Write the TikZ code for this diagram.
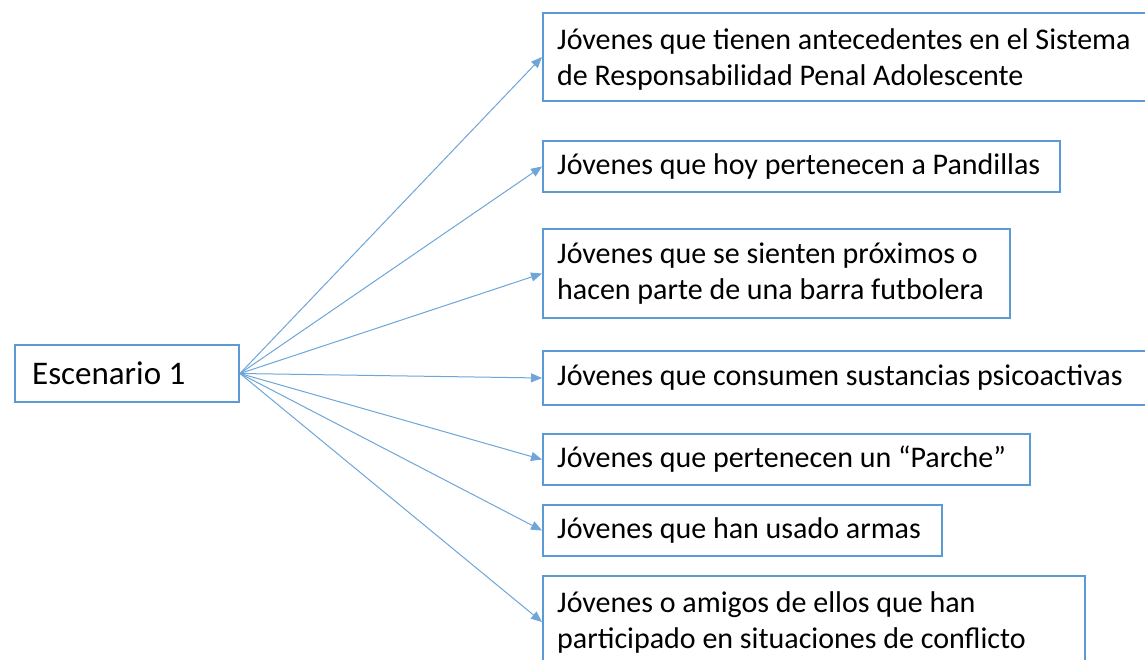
\documentclass[tikz,border=0pt]{standalone}
\usepackage{fontspec}
\setmainfont{Carlito}
\usetikzlibrary{arrows.meta}
\definecolor{boxblue}{HTML}{5B9BD5}
\definecolor{arrblue}{HTML}{6FA6DA}
\begin{document}
\begin{tikzpicture}[x=1pt,y=-1pt,
  box/.style={draw=boxblue, line width=2pt, anchor=north west, inner sep=0pt, fill=white},
  txt/.style={anchor=west, align=left, inner sep=0pt, font=\fontsize{30}{36}\selectfont},
  arr/.style={draw=arrblue, line width=1pt, -{Triangle[length=11pt,width=9pt]}}]
\useasboundingbox (0,0) rectangle (1145,659);
\clip (0,0) rectangle (1145,659);
\fill[white] (0,0) rectangle (1145,659);
% left box
\node[box, minimum width=224pt, minimum height=57pt] (esc) at (14,344) {};
\node[txt, font=\fontsize{33}{40}\selectfont] (tesc) at ([xshift=18pt]esc.west) {Escenario 1};
% right boxes
\node[box, minimum width=640pt, minimum height=88pt] (b1) at (542,12) {};
\node[box, minimum width=517pt, minimum height=51pt] (b2) at (542,140) {};
\node[box, minimum width=467pt, minimum height=89pt] (b3) at (542,228) {};
\node[box, minimum width=640pt, minimum height=54pt] (b4) at (542,350) {};
\node[box, minimum width=487pt, minimum height=51pt] (b5) at (542,433) {};
\node[box, minimum width=399pt, minimum height=51pt] (b6) at (542,504) {};
\node[box, minimum width=542pt, minimum height=92pt] (b7) at (542,575) {};
\node[txt] (t1) at ([xshift=15pt,yshift=-2pt]b1.west) {Jóvenes que tienen antecedentes en el Sistema\\de Responsabilidad Penal Adolescente};
\node[txt] (t2) at ([xshift=15pt]b2.west) {Jóvenes que hoy pertenecen a Pandillas};
\node[txt] (t3) at ([xshift=15pt]b3.west) {Jóvenes que se sienten próximos o\\hacen parte de una barra futbolera};
\node[txt] (t4) at ([xshift=15pt]b4.west) {Jóvenes que consumen sustancias psicoactivas};
\node[txt] (t5) at ([xshift=15pt]b5.west) {Jóvenes que pertenecen un “Parche”};
\node[txt] (t6) at ([xshift=15pt]b6.west) {Jóvenes que han usado armas};
\node[txt] (t7) at ([xshift=15pt]b7.west) {Jóvenes o amigos de ellos que han\\participado en situaciones de conflicto};
% connectors
\foreach \b in {b1,b2,b3,b4,b5,b6,b7}
  \draw[arr] (esc.east) -- (\b.west);
\end{tikzpicture}
\end{document}
